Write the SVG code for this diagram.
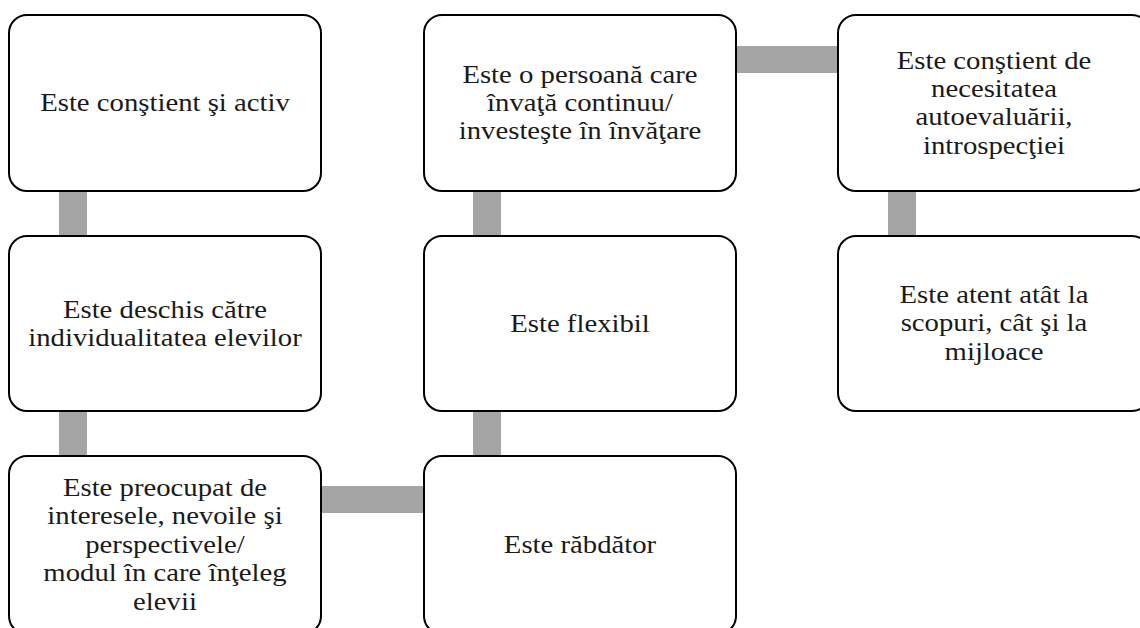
<svg xmlns="http://www.w3.org/2000/svg" width="1140" height="628" viewBox="0 0 1140 628">
  <style>
    .box { fill: #ffffff; stroke: #000000; stroke-width: 2; }
    .conn { fill: #A5A5A5; stroke: none; }
    .lbl { font-size: 25.2px; fill: #1a1a1a; text-anchor: middle; }
  </style>
  <rect width="1140" height="628" fill="#ffffff"/>
  <g id="connectors">
    <rect class="conn" x="59" y="190" width="28" height="47"/>
    <rect class="conn" x="59" y="410" width="28" height="47"/>
    <rect class="conn" x="320" y="486" width="105" height="27"/>
    <rect class="conn" x="473" y="410" width="28" height="47"/>
    <rect class="conn" x="473" y="190" width="28" height="47"/>
    <rect class="conn" x="735" y="46" width="104" height="27"/>
    <rect class="conn" x="888" y="190" width="28" height="47"/>
  </g>
  <g font-family="'Liberation Serif', 'Times New Roman', serif">
  <g id="n1">
    <rect class="box" x="9" y="15" width="312" height="176" rx="18"/>
    <text class="lbl" transform="translate(165 111) scale(1.14 1)"><tspan x="0" y="0">Este conştient şi activ</tspan></text>
  </g>
  <g id="n2">
    <rect class="box" x="9" y="236" width="312" height="175" rx="18"/>
    <text class="lbl" transform="translate(165 317.5) scale(1.14 1)"><tspan x="0" y="0">Este deschis către</tspan><tspan x="0" y="28.5">individualitatea elevilor</tspan></text>
  </g>
  <g id="n3">
    <rect class="box" x="9" y="456" width="312" height="178" rx="18"/>
    <text class="lbl" transform="translate(165 496) scale(1.14 1)"><tspan x="0" y="0">Este preocupat de</tspan><tspan x="0" y="28.5">interesele, nevoile şi</tspan><tspan x="0" y="57">perspectivele/</tspan><tspan x="0" y="85.5">modul în care înţeleg</tspan><tspan x="0" y="114">elevii</tspan></text>
  </g>
  <g id="n4">
    <rect class="box" x="424" y="456" width="312" height="178" rx="18"/>
    <text class="lbl" transform="translate(580 553) scale(1.14 1)"><tspan x="0" y="0">Este răbdător</tspan></text>
  </g>
  <g id="n5">
    <rect class="box" x="424" y="236" width="312" height="175" rx="18"/>
    <text class="lbl" transform="translate(580 331.5) scale(1.14 1)"><tspan x="0" y="0">Este flexibil</tspan></text>
  </g>
  <g id="n6">
    <rect class="box" x="424" y="15" width="312" height="176" rx="18"/>
    <text class="lbl" transform="translate(580 82.5) scale(1.14 1)"><tspan x="0" y="0">Este o persoană care</tspan><tspan x="0" y="28.5">învaţă continuu/</tspan><tspan x="0" y="57">investeşte în învăţare</tspan></text>
  </g>
  <g id="n7">
    <rect class="box" x="838" y="15" width="312" height="176" rx="18"/>
    <text class="lbl" transform="translate(994 68.5) scale(1.14 1)"><tspan x="0" y="0">Este conştient de</tspan><tspan x="0" y="28.5">necesitatea</tspan><tspan x="0" y="57">autoevaluării,</tspan><tspan x="0" y="85.5">introspecţiei</tspan></text>
  </g>
  <g id="n8">
    <rect class="box" x="838" y="236" width="312" height="175" rx="18"/>
    <text class="lbl" transform="translate(994 303) scale(1.14 1)"><tspan x="0" y="0">Este atent atât la</tspan><tspan x="0" y="28.5">scopuri, cât şi la</tspan><tspan x="0" y="57">mijloace</tspan></text>
  </g>
  </g>
</svg>
